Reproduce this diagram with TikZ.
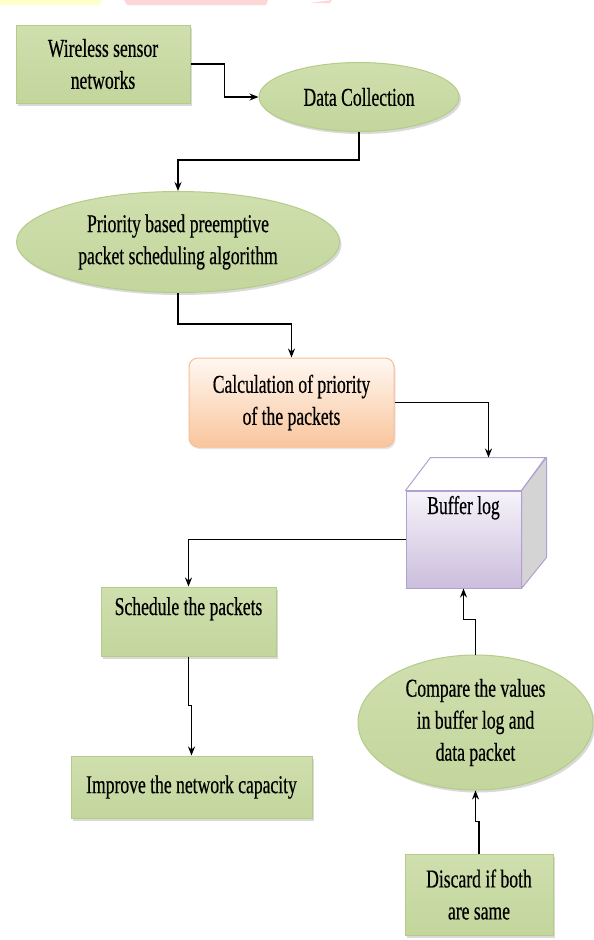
\documentclass[tikz,border=0pt]{standalone}
\usepackage{fontspec}
\setmainfont{Liberation Serif}[FakeStretch=0.685,FakeBold=0.5]
\usetikzlibrary{arrows.meta,shapes,shadows,calc}
\definecolor{greenline}{HTML}{B5CC88}
\definecolor{greentop}{HTML}{CFDFAE}
\definecolor{greenmid}{HTML}{EDF3E2}
\definecolor{greenbot}{HTML}{C3D69C}
\definecolor{orangeline}{HTML}{F7BE96}
\definecolor{orangetop}{HTML}{FFF8F2}
\definecolor{orangebot}{HTML}{F9C59C}
\definecolor{purpleline}{HTML}{B1A0D0}
\definecolor{purpletop}{HTML}{F6F3FA}
\definecolor{purplebot}{HTML}{CBBEDC}
\definecolor{cubegray}{HTML}{D4D4D4}
\definecolor{stripyellow}{HTML}{FFFFCC}
\definecolor{strippink}{HTML}{FFD6D8}
\tikzset{
    greenbox/.style={
        rectangle,
        draw=greenline,
        line width=1pt,
        top color=greentop,
        middle color=greenmid,
        bottom color=greenbot,
        drop shadow={shadow xshift=2pt,shadow yshift=-2.5pt,fill=gray!50,opacity=.6},
        align=center,
        inner sep=0pt,
    },
    greenoval/.style={
        greenbox,
        ellipse,
    },
    orangebox/.style={
        rectangle,
        rounded corners=9pt,
        draw=orangeline,
        line width=1pt,
        top color=orangetop,
        bottom color=orangebot,
        drop shadow={shadow xshift=1.5pt,shadow yshift=-2pt,fill=gray!40,opacity=.5},
        align=center,
        inner sep=0pt,
    },
    cubefront/.style={
        rectangle,
        draw=purpleline,
        line width=1pt,
        top color=purpletop,
        bottom color=purplebot,
        align=center,
        inner sep=0pt,
    },
    cubeside/.style={
        draw=purpleline,
        line width=1pt,
        line join=round,
    },
}

\begin{document}
\begin{tikzpicture}[x=1pt,y=-1pt,>={Stealth[length=9pt,width=7pt]},
    every node/.style={font=\fontsize{25.7}{32}\selectfont},
    flow/.style={->,line width=1.5pt}]
    \useasboundingbox (0,0) rectangle (594,940);
    % strips at the top edge
    \fill[stripyellow] (0,0) -- (102,0) -- (99,5) -- (0,5) -- cycle;
    \fill[strippink] (124,0) -- (268,0) -- (266,5) -- (127,5) -- cycle;
    \fill[strippink] (310,3) -- (332,0) -- (330,3) -- cycle;

    \node [greenbox, minimum width=174pt, minimum height=78pt] (wsn) at (103,64) {Wireless sensor\\networks};
    \node [greenoval, minimum width=200pt, minimum height=69pt] (collect) at (359,97) {Data Collection};
    \node [greenoval, minimum width=323pt, minimum height=101pt] (prio) at (178,242) {Priority based preemptive\\packet scheduling algorithm};
    \node [orangebox, minimum width=205pt, minimum height=89pt] (calc) at (291.5,402.5) {Calculation of priority\\of the packets};
    \node [cubefront, minimum width=115pt, minimum height=97pt, text height=18pt, text depth=69pt] (buffer) at (463.5,539.5) {Buffer log};
    \draw [cubeside, fill=white] (buffer.north west) -- ++(25,-33) -- ++(115,0) -- (buffer.north east) -- cycle;
    \draw [cubeside, fill=cubegray] (buffer.north east) -- ++(25,-33) -- ++(0,100) -- (buffer.south east) -- cycle;
    \node [greenbox, minimum width=175pt, minimum height=69pt, text height=18pt, text depth=31pt] (sched) at (188.5,621.5) {Schedule the packets};
    \node [greenbox, minimum width=241pt, minimum height=62pt] (improve) at (191.5,787) {Improve the network capacity};
    \node [greenoval, minimum width=235pt, minimum height=135pt] (compare) at (475.5,722.5) {Compare the values\\in buffer log and\\data packet};
    \node [greenbox, minimum width=148pt, minimum height=81pt] (discard) at (479,894.5) {Discard if both\\are same};

    \draw [flow] (wsn.east) -- ++(34,0) |- (collect.west);
    \draw [flow] (collect.south) -- ++(0,28) -| (prio.north);
    \draw [flow] (prio.south) -- ++(0,31) -| (calc.north);
    \draw [flow] (calc.east) -| ($(buffer.north)+(25,-33)$);
    \draw [flow] (buffer.west) -| (sched.north);
    \draw [flow] (sched.south) -- ++(0,49) -| (improve.north);
    \draw [flow] (compare.north) -- ++(0,-35) -| (buffer.south);
    \draw [flow] (discard.north) -- ++(0,-32) -| (compare.south);
\end{tikzpicture}
\end{document}
